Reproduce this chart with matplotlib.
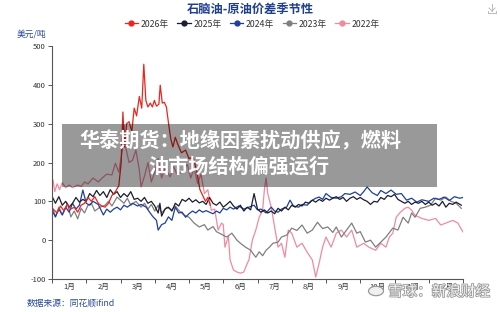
import matplotlib
matplotlib.use("Agg")
import matplotlib.pyplot as plt
from matplotlib.lines import Line2D
from matplotlib.patches import Rectangle, Circle
import matplotlib.patheffects as pe

plt.rcParams['font.family'] = ['Noto Sans CJK SC', 'DejaVu Sans']

# ---------------- data ----------------
title = "石脑油-原油价差季节性"
unit = "美元/吨"
source = "数据来源：同花顺ifind"
banner_lines = ["华泰期货：地缘因素扰动供应，燃料", "油市场结构偏强运行"]
watermark = "雪球：新浪财经"
month_labels = ["1月", "2月", "3月", "4月", "5月", "6月", "7月", "8月", "9月", "10月", "11月", "12月"]
y_ticks = [-100, 0, 100, 200, 300, 400, 500]
series_names = ["2026年", "2025年", "2024年", "2023年", "2022年"]

# x = position in months since 1 Jan (0..12)
x2026 = [0.03, 0.15, 0.25, 0.35, 0.45, 0.55, 0.65, 0.75, 0.85, 0.95, 1.05, 1.15, 1.25, 1.35, 1.45,
         1.55, 1.65, 1.75, 1.85, 1.95, 2.02, 2.07, 2.12, 2.18, 2.25, 2.33, 2.40, 2.47, 2.55, 2.62,
         2.68, 2.74, 2.80, 2.87, 2.93, 2.99, 3.05, 3.12, 3.16, 3.22, 3.28, 3.34, 3.41, 3.47, 3.53,
         3.60, 3.68, 3.78, 3.90, 4.00, 4.12, 4.22, 4.32, 4.40, 4.48, 4.55, 4.62]
v2026 = [80, 70, 88, 75, 92, 80, 85, 72, 90, 95, 110, 100, 112, 95, 88,
         85, 95, 115, 125, 140, 200, 330, 240, 300, 305, 280, 340, 320, 370, 340,
         453, 360, 343, 353, 343, 360, 345, 350, 399, 353, 355, 343, 296, 260, 240,
         265, 245, 225, 232, 210, 214, 180, 130, 115, 100, 110, 90]

x2025 = [0.03, 0.1, 0.2, 0.3, 0.4, 0.5, 0.6, 0.7, 0.8, 0.9, 1.0, 1.1, 1.2, 1.3, 1.4, 1.5, 1.6, 1.7,
         1.8, 1.9, 2.0, 2.1, 2.2, 2.3, 2.4, 2.5, 2.6, 2.7, 2.8, 2.9, 3.0, 3.1, 3.15, 3.2, 3.3, 3.4,
         3.5, 3.6, 3.7, 3.8, 3.9, 4.0, 4.1, 4.2, 4.3, 4.4, 4.5, 4.6, 4.7, 4.8, 4.9, 5.0, 5.1, 5.2,
         5.3, 5.4, 5.5, 5.6, 5.7, 5.8, 5.9, 6.0, 6.1, 6.2, 6.3, 6.4, 6.5, 6.6, 6.7, 6.8, 6.9, 7.0,
         7.1, 7.2, 7.3, 7.4, 7.5, 7.6, 7.7, 7.8, 7.9, 8.0, 8.1, 8.2, 8.3, 8.4, 8.5, 8.6, 8.7, 8.8,
         8.9, 9.0, 9.1, 9.2, 9.3, 9.4, 9.5, 9.6, 9.7, 9.8, 9.9, 10.0, 10.1, 10.2, 10.3, 10.4, 10.5,
         10.6, 10.7, 10.8, 10.9, 11.0, 11.1, 11.2, 11.3, 11.4, 11.5, 11.6, 11.7, 11.8, 11.95]
v2025 = [108, 95, 112, 90, 100, 85, 95, 110, 98, 105, 100, 120, 112, 128, 115, 125, 110, 130,
         118, 125, 110, 120, 112, 125, 105, 108, 100, 110, 95, 100, 88, 70, 95, 62, 80, 85,
         75, 95, 88, 105, 100, 108, 98, 104, 96, 100, 92, 110, 95, 90, 98, 85, 92, 100,
         88, 80, 90, 75, 85, 78, 120, 80, 72, 78, 70, 75, 68, 82, 75, 85, 78, 90,
         85, 92, 88, 98, 95, 103, 98, 105, 100, 108, 103, 108, 112, 105, 110, 100, 108, 112,
         105, 110, 104, 100, 92, 100, 98, 110, 105, 115, 112, 118, 105, 100, 95, 100, 92,
         98, 95, 100, 92, 98, 90, 95, 88, 100, 85, 95, 92, 98, 90]

x2024 = [0.03, 0.1, 0.2, 0.3, 0.4, 0.5, 0.6, 0.7, 0.8, 0.9, 1.0, 1.1, 1.2, 1.35, 1.5, 1.6, 1.7,
         1.8, 1.9, 2.0, 2.1, 2.2, 2.35, 2.5, 2.6, 2.75, 2.85, 2.95, 3.05, 3.1, 3.2, 3.3, 3.4,
         3.5, 3.6, 3.7, 3.8, 3.9, 4.0, 4.1, 4.2, 4.3, 4.4, 4.5, 4.6, 4.7, 4.8, 4.9, 5.0, 5.1,
         5.2, 5.3, 5.45, 5.6, 5.75, 5.9, 6.0, 6.1, 6.25, 6.4, 6.5, 6.6, 6.7, 6.85, 6.95, 7.05,
         7.2, 7.3, 7.45, 7.55, 7.7, 7.8, 7.9, 8.0, 8.15, 8.3, 8.45, 8.55, 8.7, 8.85, 9.0, 9.1,
         9.2, 9.35, 9.5, 9.6, 9.75, 9.9, 10.05, 10.2, 10.35, 10.5, 10.65, 10.8, 11.0, 11.15,
         11.3, 11.45, 11.6, 11.75, 11.9, 12.0]
v2024 = [72, 60, 80, 65, 85, 72, 95, 80, 90, 129, 95, 90, 100, 92, 65, 80, 72,
         80, 85, 78, 90, 85, 95, 88, 92, 85, 72, 60, 51, 26, 40, 44, 60,
         51, 85, 70, 72, 59, 68, 75, 70, 78, 72, 76, 72, 68, 75, 70, 82, 78,
         85, 80, 88, 80, 85, 90, 78, 80, 70, 85, 75, 72, 80, 85, 103, 88,
         85, 92, 90, 100, 108, 111, 105, 120, 110, 108, 112, 120, 118, 124, 115, 125,
         137, 122, 115, 128, 120, 129, 118, 120, 103, 108, 98, 104, 100, 108,
         105, 111, 102, 112, 108, 110]

x2023 = [0.03, 0.1, 0.2, 0.3, 0.45, 0.55, 0.65, 0.75, 0.85, 0.95, 1.05, 1.15, 1.25, 1.4, 1.55,
         1.65, 1.75, 1.9, 2.0, 2.1, 2.2, 2.3, 2.45, 2.6, 2.7, 2.8, 2.9, 3.0, 3.1, 3.2, 3.35,
         3.5, 3.6, 3.7, 3.85, 4.0, 4.15, 4.3, 4.45, 4.55, 4.7, 4.8, 4.95, 5.1, 5.25, 5.4, 5.5,
         5.65, 5.8, 5.95, 6.05, 6.15, 6.25, 6.35, 6.45, 6.6, 6.7, 6.85, 7.0, 7.15, 7.3, 7.45,
         7.6, 7.75, 7.9, 8.05, 8.2, 8.3, 8.45, 8.6, 8.75, 8.9, 9.0, 9.15, 9.3, 9.45, 9.6, 9.75,
         9.95, 10.1, 10.25, 10.4, 10.5, 10.6, 10.75, 10.9, 11.05, 11.2, 11.35, 11.5, 11.65,
         11.8, 11.95]
v2023 = [80, 60, 85, 65, 95, 60, 75, 55, 82, 70, 90, 95, 75, 85, 90,
         100, 88, 111, 103, 95, 108, 90, 100, 85, 95, 80, 92, 75, 90, 70, 85,
         78, 88, 77, 65, 59, 44, 34, 40, 26, 35, 22, 15, 8, 18, 0, -8,
         -18, -26, -44, -30, -40, -26, -18, -8, -5, 8, 13, 31, 25, 39, 18,
         26, 46, 30, 34, 20, 34, 8, 26, 44, 18, 22, -5, 0, -18, -5, 8,
         31, 26, 59, 44, 70, 59, 82, 85, 90, 108, 103, 111, 100,
         95, 82]

x2022 = [0.03, 0.08, 0.15, 0.22, 0.3, 0.4, 0.5, 0.6, 0.75, 0.85, 0.95, 1.05, 1.2, 1.35, 1.5,
         1.6, 1.75, 1.85, 1.95, 2.05, 2.1, 2.15, 2.25, 2.35, 2.45, 2.55, 2.6, 2.7, 2.8, 2.9,
         3.0, 3.1, 3.2, 3.3, 3.45, 3.55, 3.65, 3.8, 3.95, 4.05, 4.15, 4.25, 4.35, 4.45, 4.55,
         4.65, 4.75, 4.85, 4.95, 5.0, 5.05, 5.15, 5.2, 5.3, 5.4, 5.5, 5.6, 5.7, 5.75, 5.85,
         5.95, 6.05, 6.15, 6.2, 6.25, 6.3, 6.4, 6.5, 6.6, 6.7, 6.8, 6.9, 7.0, 7.15, 7.3, 7.45,
         7.6, 7.7, 7.8, 7.9, 8.0, 8.15, 8.3, 8.45, 8.6, 8.75, 8.9, 9.1, 9.25, 9.45, 9.6, 9.75,
         9.85, 9.95, 10.05, 10.15, 10.3, 10.4, 10.5, 10.6, 10.8, 11.0, 11.2, 11.35, 11.5, 11.7,
         11.85, 12.0]
v2022 = [155, 125, 145, 130, 148, 135, 142, 135, 142, 138, 150, 145, 160, 150, 163,
         170, 168, 198, 175, 230, 296, 240, 200, 206, 232, 180, 137, 165, 200, 150,
         175, 210, 160, 185, 163, 190, 170, 175, 195, 160, 185, 146, 170, 120, 130,
         77, 80, 26, 44, 40, -18, 10, -51, -77, -82, -85, -82, -60, -51, 0,
         26, 59, 77, 129, 160, 120, 85, 34, -18, -8, -44, 26, 18, -18, -8, -31,
         -51, -95, -59, -18, 8, -18, 18, 26, 8, 26, -18, -8, -18, -26, -8, -18,
         8, 18, 59, 70, 82, 85, 77, 64, 56, 51, 56, 39, 44, 51,
         44, 21]

series_x = [x2026, x2025, x2024, x2023, x2022]
series_v = [v2026, v2025, v2024, v2023, v2022]
colors = ["#e8261e", "#1c1d2e", "#1f3f9a", "#7f7f7f", "#f3899f"]

# ---------------- figure ----------------
W, H = 500, 312
fig = plt.figure(figsize=(W / 100, H / 100), dpi=100)
fig.patch.set_facecolor("white")

def fx(x):
    return x / W

def fy(y):
    return 1 - y / H

ax_l, ax_r, ax_t, ax_b = 52, 463, 46, 279
ax = fig.add_axes([fx(ax_l), fy(ax_b), fx(ax_r) - fx(ax_l), fy(ax_t) - fy(ax_b)])
ax.set_xlim(0, 12)
ax.set_ylim(-100, 500)

# draw from last (2022) to first (2026) so newer years on top
for xs, vs, c in reversed(list(zip(series_x, series_v, colors))):
    ax.plot(xs, vs, color=c, lw=0.9, solid_joinstyle="round")

for s in ["top", "right"]:
    ax.spines[s].set_visible(False)
for s in ["left", "bottom"]:
    ax.spines[s].set_color("#555555")
    ax.spines[s].set_linewidth(0.8)

ax.set_yticks(y_ticks)
ax.set_yticklabels([str(t) for t in y_ticks])
ax.tick_params(axis="y", length=3, width=0.7, color="#555555", labelsize=5.5,
               labelcolor="#333333", pad=1.5)
ax.set_xticks(range(13))
ax.set_xticklabels([""] * 13)
ax.tick_params(axis="x", length=3, width=0.7, color="#555555")
ax.set_xticks([i + 0.5 for i in range(12)], minor=True)
ax.set_xticklabels(month_labels, minor=True)
ax.tick_params(axis="x", which="minor", length=0, labelsize=5.5, labelcolor="#333333", pad=3)

# title, unit, legend
fig.text(0.5, fy(9), title, ha="center", va="center", fontsize=8.8, fontweight="bold",
         color="#1f3f8f")
fig.text(fx(17), fy(34), unit, ha="left", va="center", fontsize=6.3, color="#2a4a9a")

handles = [Line2D([], [], color=c, lw=0.9, marker="o", markersize=3.5) for c in colors]
leg = fig.legend(handles, series_names, loc="center", bbox_to_anchor=(fx(252), fy(24)),
                 ncol=5, frameon=False, fontsize=6.3, handlelength=1.5, handletextpad=0.3,
                 columnspacing=1.0, borderaxespad=0, borderpad=0)
for t in leg.get_texts():
    t.set_color("#333333")

fig.text(fx(27), fy(303), source, ha="left", va="center", fontsize=6.3, color="#2a4a9a")

# download icon (top right), drawn as small strokes
icon_c = "#bbbbbb"
for (xa, ya, xb, yb) in [(492, 4, 492, 11), (489, 8, 492, 11), (495, 8, 492, 11),
                         (488, 11, 488, 13), (496, 11, 496, 13), (488, 13, 496, 13)]:
    fig.add_artist(Line2D([fx(xa), fx(xb)], [fy(ya), fy(yb)], transform=fig.transFigure,
                          color=icon_c, lw=0.7))

# overlay banner
bx0, by0, bx1, by1 = 62, 124, 437, 187
fig.add_artist(Rectangle((fx(bx0), fy(by1)), fx(bx1) - fx(bx0), fy(by0) - fy(by1),
                         transform=fig.transFigure, facecolor="black", alpha=0.4,
                         edgecolor="none", zorder=10))
fig.text(fx(240), fy(141), banner_lines[0], ha="center", va="center", fontsize=14.5,
         fontweight="bold", color="white", zorder=11)
fig.text(fx(239), fy(166), banner_lines[1], ha="center", va="center", fontsize=14.5,
         fontweight="bold", color="white", zorder=11)

# watermark
wm_fx = [pe.withStroke(linewidth=1.2, foreground="#9a9a9a")]
fig.add_artist(Circle((fx(376), fy(291)), 7.5 / W, transform=fig.transFigure,
                      facecolor="#f0f0f0", edgecolor="#9a9a9a", lw=0.9, zorder=12))
fig.text(fx(388), fy(292), watermark, ha="left", va="center", fontsize=10.5,
         color="#f4f4f4", path_effects=wm_fx, zorder=12)

fig.savefig("out.png", dpi=100)
